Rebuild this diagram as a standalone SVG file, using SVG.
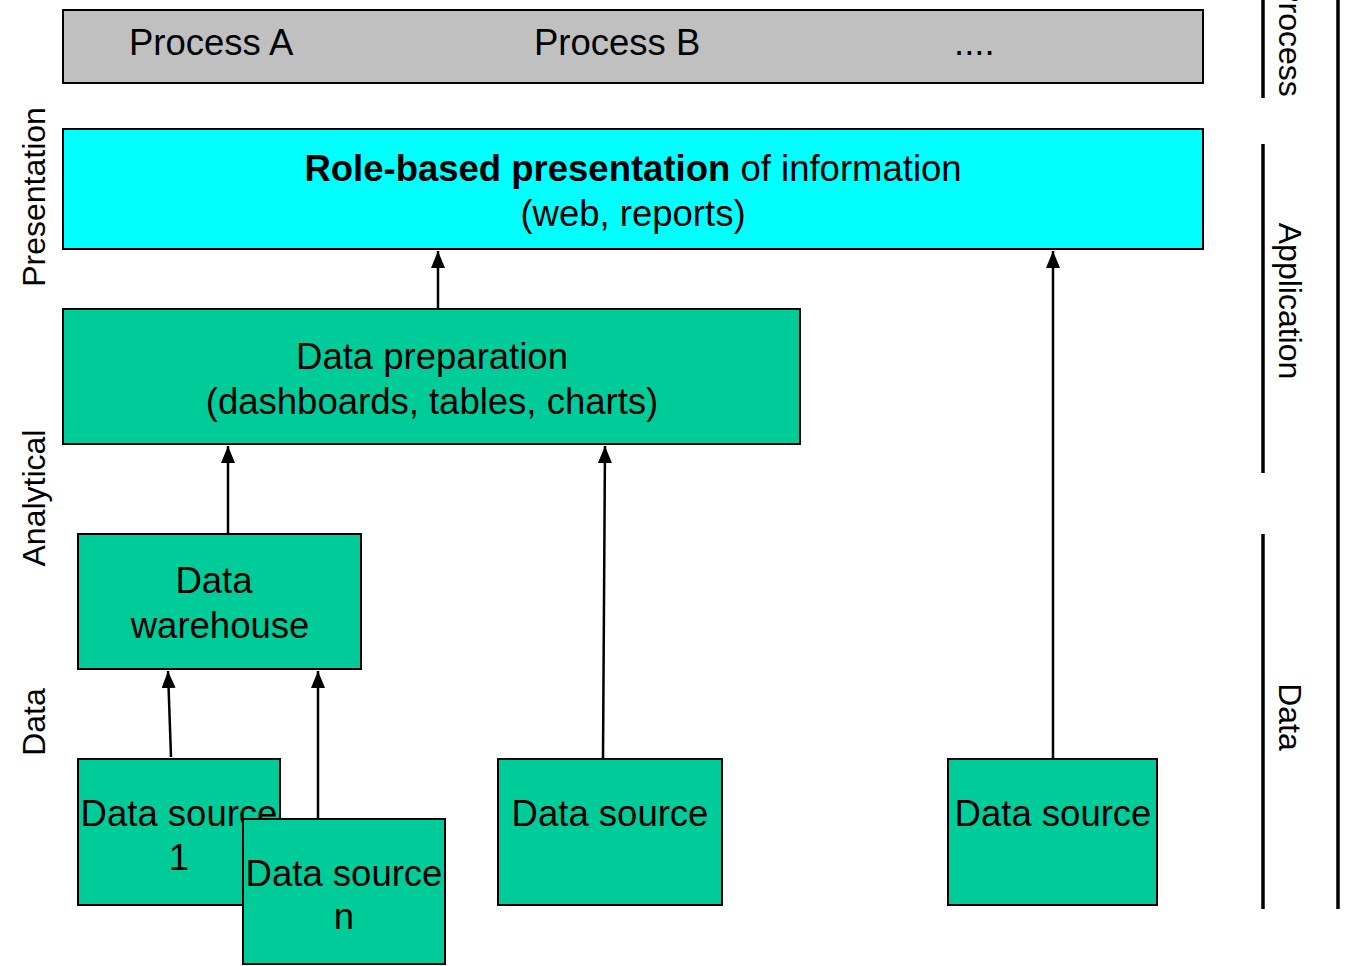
<svg xmlns="http://www.w3.org/2000/svg" width="1346" height="966" viewBox="0 0 1346 966">
<style>
  text { font-family: "Liberation Sans", Arial, sans-serif; font-size: 36.5px; fill: #000; }
  .side { font-size: 32px; }
  .c { text-anchor: middle; }
  .box { stroke: #000; stroke-width: 2; }
  .green { fill: #00cc99; }
  .conn { stroke: #000; stroke-width: 2.5; fill: none; marker-end: url(#arr); }
  .rule { stroke: #000; stroke-width: 3.5; }
</style>
<defs>
  <marker id="arr" markerWidth="17" markerHeight="14" refX="17" refY="7" orient="auto" markerUnits="userSpaceOnUse" viewBox="0 0 17 14">
    <path d="M0,0 L17,7 L0,14 Z" fill="#000"/>
  </marker>
</defs>
<rect width="1346" height="966" fill="#fff"/>

<g id="process-bar">
  <rect class="box" x="63" y="10" width="1140" height="73" fill="#c0c0c0"/>
  <text x="129" y="55">Process A</text>
  <text x="534" y="55">Process B</text>
  <text x="954" y="55">....</text>
</g>

<g id="presentation">
  <rect class="box" x="63" y="129" width="1140" height="120" fill="#00ffff"/>
  <text class="c" x="633" y="181"><tspan font-weight="bold">Role-based presentation</tspan>  of information</text>
  <text class="c" x="633" y="226">(web, reports)</text>
</g>

<g id="data-preparation">
  <rect class="box green" x="63" y="309" width="737" height="135"/>
  <text class="c" x="432" y="369">Data preparation</text>
  <text class="c" x="432" y="414">(dashboards, tables, charts)</text>
</g>

<g id="data-warehouse">
  <rect class="box green" x="78" y="534" width="283" height="135"/>
  <text class="c" x="214" y="593">Data</text>
  <text class="c" x="220" y="638">warehouse</text>
</g>

<g id="data-source-1">
  <rect class="box green" x="78" y="759" width="202" height="146"/>
  <text class="c" x="179" y="826">Data source</text>
  <text class="c" x="179" y="870">1</text>
</g>

<g id="data-source-n">
  <rect class="box green" x="243" y="819" width="202" height="145"/>
  <text class="c" x="344" y="886">Data source</text>
  <text class="c" x="344" y="929">n</text>
</g>

<g id="data-source-mid">
  <rect class="box green" x="498" y="759" width="224" height="146"/>
  <text class="c" x="610" y="826">Data source</text>
</g>

<g id="data-source-right">
  <rect class="box green" x="948" y="759" width="209" height="146"/>
  <text class="c" x="1053" y="826">Data source</text>
</g>

<g id="connectors">
  <line class="conn" x1="438" y1="308" x2="438" y2="251"/>
  <line class="conn" x1="228" y1="533" x2="228" y2="446"/>
  <line class="conn" x1="171" y1="757" x2="168" y2="671"/>
  <line class="conn" x1="318" y1="818" x2="318" y2="671"/>
  <line class="conn" x1="603" y1="758" x2="605" y2="446"/>
  <line class="conn" x1="1053" y1="758" x2="1053" y2="251"/>
</g>

<g id="layer-labels-left">
  <text class="side c" transform="translate(45,197) rotate(-90)">Presentation</text>
  <text class="side c" transform="translate(45,498) rotate(-90)">Analytical</text>
  <text class="side c" transform="translate(45,722) rotate(-90)">Data</text>
</g>

<g id="layer-labels-right">
  <line class="rule" x1="1263" y1="0" x2="1263" y2="98"/>
  <line class="rule" x1="1263" y1="144" x2="1263" y2="473"/>
  <line class="rule" x1="1263" y1="534" x2="1263" y2="909"/>
  <line class="rule" x1="1338" y1="0" x2="1338" y2="909"/>
  <text class="side c" transform="translate(1279,39) rotate(90)">Process</text>
  <text class="side c" transform="translate(1279,301) rotate(90)">Application</text>
  <text class="side c" transform="translate(1279,717) rotate(90)">Data</text>
</g>
</svg>
